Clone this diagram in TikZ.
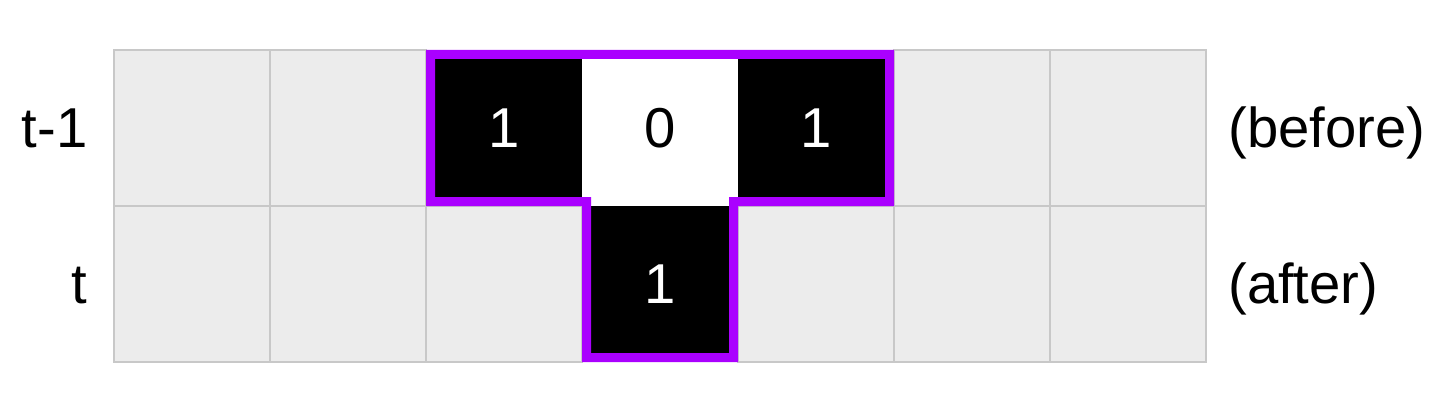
\documentclass[tikz,border=0pt]{standalone}
\usepackage{fontspec}
\setmainfont{Liberation Sans}
\usepackage{tikz}

\definecolor{cellgray}{HTML}{ECECEC}
\definecolor{gridline}{HTML}{C8C8C8}
\definecolor{tpurple}{RGB}{170,0,255}

\begin{document}
\begin{tikzpicture}[x=3.12cm, y=3.12cm,
  every node/.style={font=\fontsize{32}{38}\selectfont},
  cell/.style={draw=gridline, line width=1.1pt, fill=cellgray, minimum size=3.12cm,
    inner sep=0pt, outer sep=0pt, anchor=south west},
  on/.style={cell, draw=none, fill=black, text=white},
  off/.style={cell, draw=none, fill=white},
  rowlabel/.style={inner sep=0pt}]
\useasboundingbox (-0.7308,-0.3141) rectangle (8.5769,2.3205);
% row t-1 (before)
\foreach \c in {0,1,5,6} \node[cell] (a\c) at (\c,1) {};
\node[on] (a2) at (2,1) {1};
\node[off] (a3) at (3,1) {0};
\node[on] (a4) at (4,1) {1};
% row t (after)
\foreach \c in {0,1,2,4,5,6} \node[cell] (b\c) at (\c,0) {};
\node[on] (b3) at (3,0) {1};
% outline of the neighbourhood
\begin{scope}
\clip (a2.north west) -- (a4.north east) -- (a4.south east) -- (b3.north east)
  -- (b3.south east) -- (b3.south west) -- (b3.north west) -- (a2.south west) -- cycle;
\draw[tpurple, line width=0.36cm] (a2.north west) -- (a4.north east) -- (a4.south east)
  -- (b3.north east) -- (b3.south east) -- (b3.south west) -- (b3.north west)
  -- (a2.south west) -- cycle;
\end{scope}
% labels
\node[rowlabel, anchor=base east] (tprev) at (-0.167,1.372) {t-1};
\node[rowlabel, anchor=base east] (tnow) at (-0.167,0.372) {t};
\node[rowlabel, anchor=base west] (before) at (7.141,1.372) {(before)};
\node[rowlabel, anchor=base west] (after) at (7.141,0.372) {(after)};
\end{tikzpicture}
\end{document}
